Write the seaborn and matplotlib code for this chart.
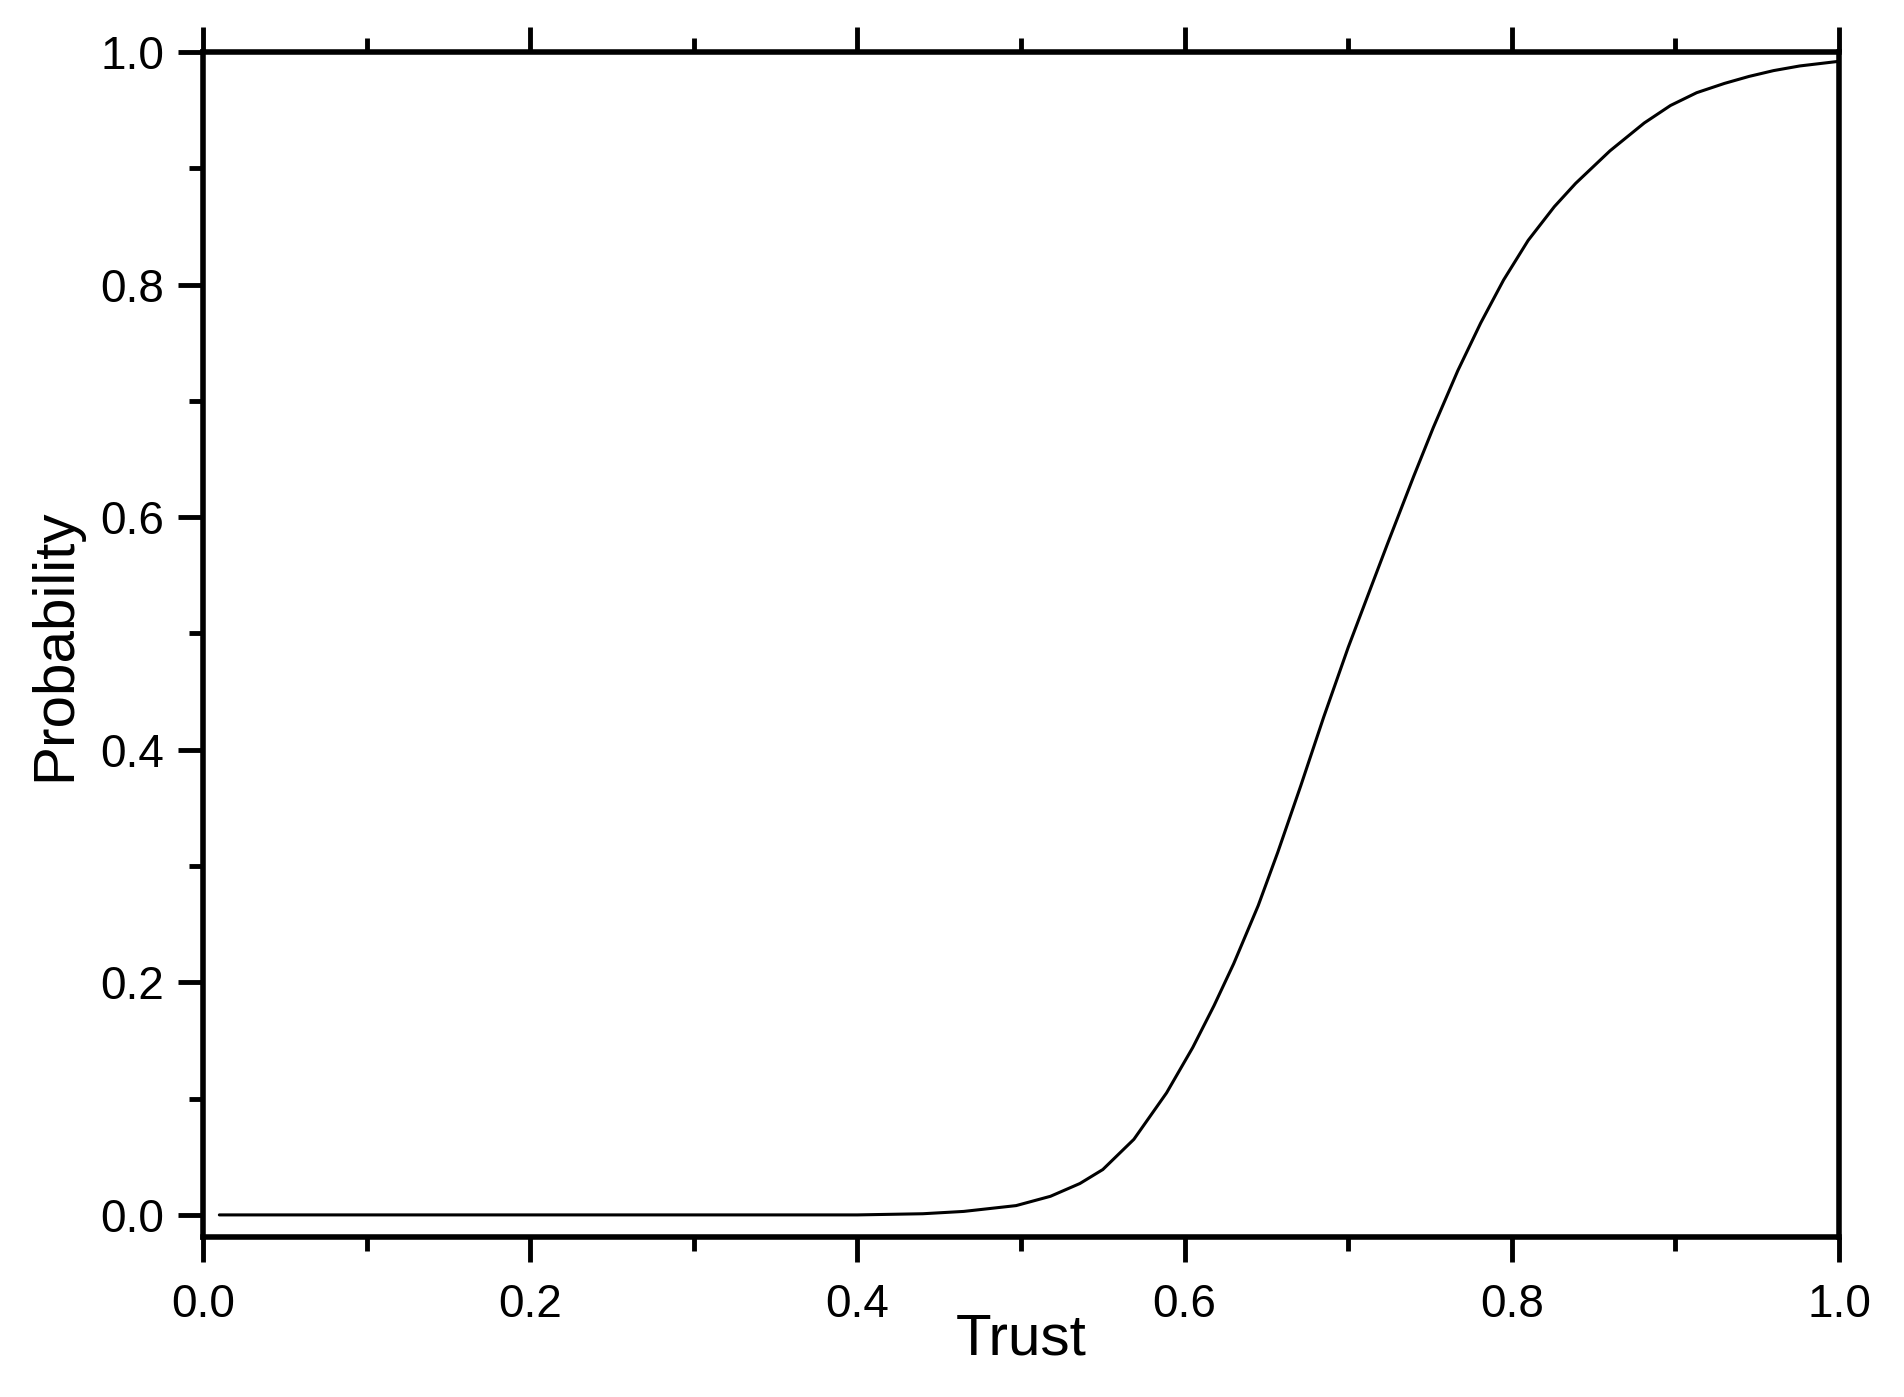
"""Trust vs probability curve, Origin-style frame."""
import matplotlib
matplotlib.use("Agg")
import matplotlib.pyplot as plt
from matplotlib.ticker import MultipleLocator
import pandas as pd
import seaborn as sns

# values
trust = [0.01, 0.10, 0.20, 0.30, 0.40, 0.44, 0.465, 0.497, 0.518, 0.536,
         0.550, 0.569, 0.589, 0.605, 0.618, 0.630, 0.645, 0.657, 0.671,
         0.685, 0.700, 0.714, 0.724, 0.740, 0.752, 0.767, 0.781, 0.795,
         0.810, 0.826, 0.839, 0.860, 0.881, 0.897, 0.913, 0.930, 0.945,
         0.960, 0.976, 1.0]
probability = [0.0, 0.0, 0.0, 0.0, 0.0, 0.001, 0.003, 0.008, 0.016, 0.027,
               0.039, 0.065, 0.105, 0.144, 0.180, 0.216, 0.266, 0.312, 0.369,
               0.428, 0.488, 0.540, 0.577, 0.635, 0.677, 0.726, 0.767, 0.804,
               0.838, 0.867, 0.887, 0.915, 0.939, 0.954, 0.965, 0.973, 0.979,
               0.984, 0.988, 0.992]
x_ticks = [0.0, 0.2, 0.4, 0.6, 0.8, 1.0]
y_ticks = [0.0, 0.2, 0.4, 0.6, 0.8, 1.0]

df = pd.DataFrame({"Trust": trust, "Probability": probability})

sns.set_theme(style="white")
plt.rcParams["font.family"] = ["Liberation Sans", "DejaVu Sans"]
plt.rcParams["text.color"] = "black"
plt.rcParams["axes.labelcolor"] = "black"
plt.rcParams["xtick.color"] = "black"
plt.rcParams["ytick.color"] = "black"

fig = plt.figure(figsize=(19.04, 13.97), dpi=100)
ax = fig.add_axes([203 / 1904, 1 - 1237 / 1397, (1839 - 203) / 1904, (1237 - 52) / 1397])

sns.lineplot(data=df, x="Trust", y="Probability", color="black",
             linewidth=2.2, ax=ax)

ax.set_xlim(0, 1)
ax.set_ylim(-0.019, 1.0)
ax.set_xticks(x_ticks)
ax.set_yticks(y_ticks)
ax.set_xticklabels([f"{v:.1f}" for v in x_ticks])
ax.set_yticklabels([f"{v:.1f}" for v in y_ticks])
ax.xaxis.set_minor_locator(MultipleLocator(0.1))
ax.yaxis.set_minor_locator(MultipleLocator(0.1))

for side in ["left", "right", "top", "bottom"]:
    ax.spines[side].set_color("black")
    ax.spines[side].set_linewidth(4)

ax.tick_params(axis="x", which="both", direction="out", top=True, bottom=True,
               labeltop=False, color="black", labelcolor="black", width=3.5)
ax.tick_params(axis="y", which="both", direction="out", left=True, right=False,
               color="black", labelcolor="black", width=3.5)
ax.tick_params(which="major", length=18, labelsize=33)
ax.tick_params(which="minor", length=10)
ax.tick_params(axis="x", which="major", pad=15)
ax.tick_params(axis="y", which="major", pad=10)

ax.set_xlabel("Trust", fontsize=42, labelpad=-10, color="black")
ax.set_ylabel("Probability", fontsize=42, labelpad=13, color="black")
ax.grid(False)

fig.savefig("out.png", dpi=100, facecolor="white")
plt.close(fig)
